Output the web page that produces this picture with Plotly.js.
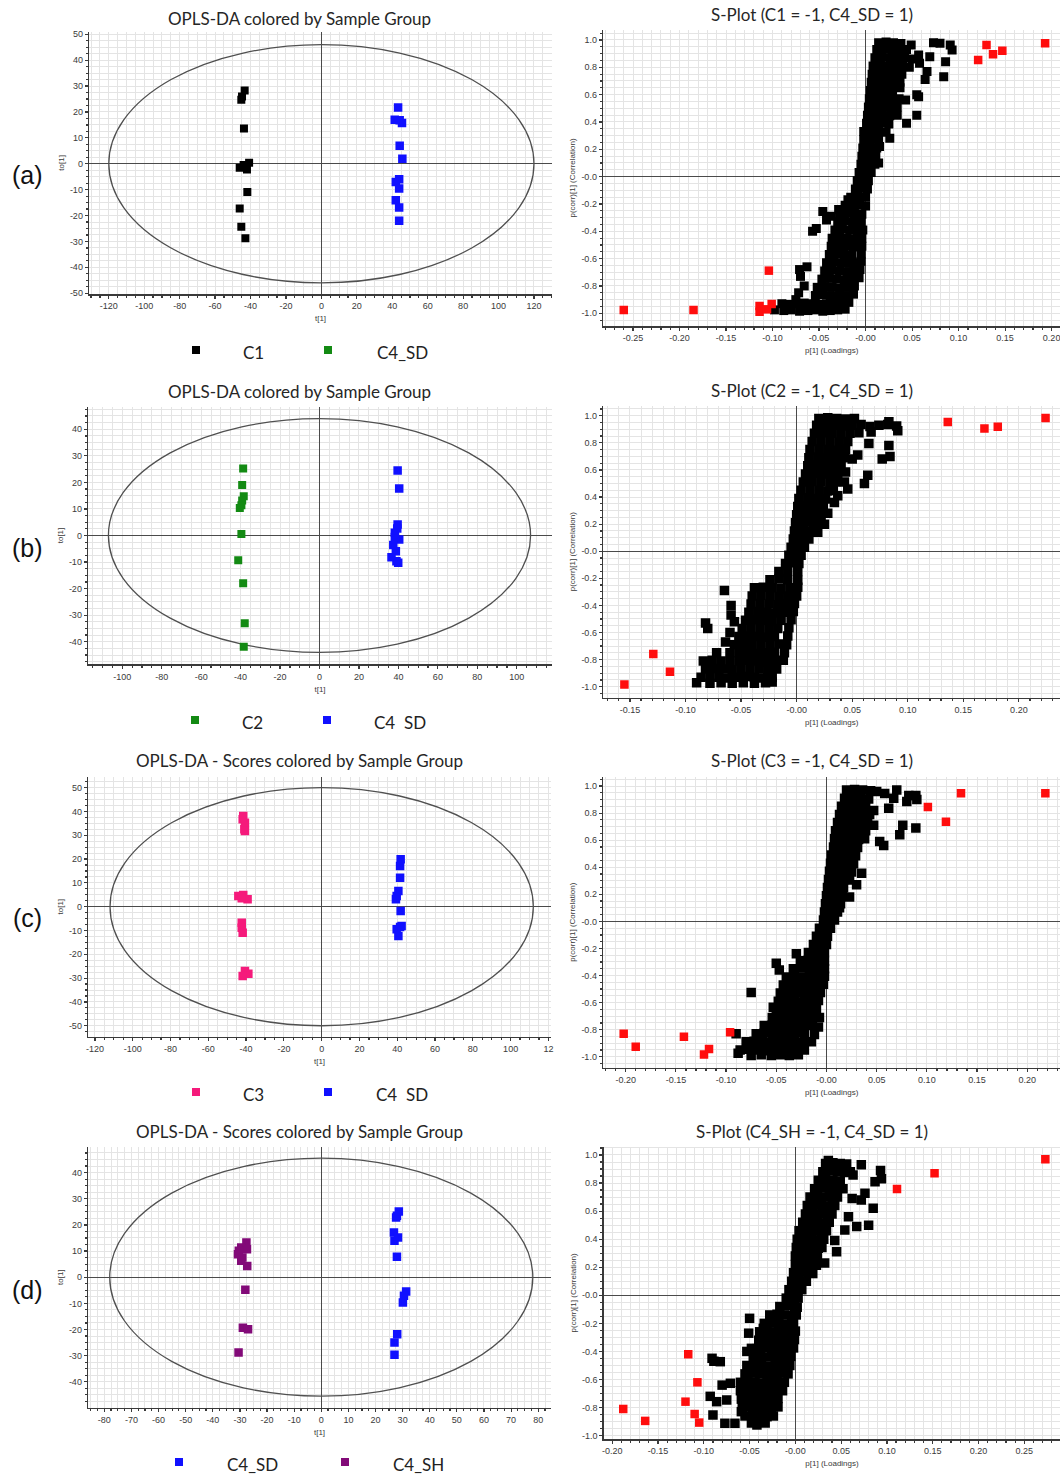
<!DOCTYPE html>
<html><head><meta charset="utf-8">
<script src="https://cdn.plot.ly/plotly-3.0.1.min.js"></script>
<style>body{margin:0;background:#fff}#chart{width:1060px;height:1475px}</style>
</head><body><div id="chart"></div>
<script>
// ---------------- DATA ----------------
// Score plots: t[1] / to[1]
const a_C1_t  = [-43.3,-44.8,-45.2,-43.7,-46.1,-43.9,-42.0,-40.8,-41.8,-46.1,-45.2,-42.9];
const a_C1_to = [28.3,26.0,24.7,13.6,-1.5,-0.5,-2.2,0.4,-10.9,-17.3,-24.3,-28.8];
const a_SD_t  = [43.3,41.4,44.2,45.5,44.2,45.7,43.9,42.0,43.9,42.0,43.9,43.9];
const a_SD_to = [21.7,17.0,16.8,15.7,7.0,1.9,-6.0,-7.0,-9.6,-14.1,-16.9,-22.0];

const b_C2_t  = [-38.7,-39.2,-38.4,-39.2,-39.6,-40.4,-39.6,-41.2,-38.7,-37.9,-38.4];
const b_C2_to = [25.2,19.0,14.8,13.2,11.4,10.4,0.6,-9.3,-18.0,-33.0,-41.9];
const b_SD_t  = [39.6,40.4,39.6,38.2,40.4,37.4,38.7,36.5,39.0,39.9,38.2,39.4];
const b_SD_to = [24.5,17.7,4.1,1.0,-1.5,-3.6,-5.9,-8.2,-9.7,-10.3,-0.6,2.6];

const c_C3_t  = [-41.5,-40.6,-40.9,-41.8,-40.6,-44.1,-41.5,-39.2,-42.3,-42.3,-42.3,-41.8,-40.6,-38.8,-41.8];
const c_C3_to = [38.1,35.3,32.5,36.7,31.8,4.5,4.9,3.1,3.5,-6.7,-8.8,-10.9,-27.0,-28.2,-29.1];
const c_SD_t  = [41.8,41.5,41.5,40.6,39.7,39.3,41.8,41.5,39.7,40.6,42.3];
const c_SD_to = [19.9,17.1,12.2,6.6,4.5,3.1,-1.8,-8.5,-9.5,-12.3,-8.1];

const d_SD_t  = [28.6,27.9,27.6,26.8,28.3,27.0,27.9,31.3,30.5,30.1,28.0,27.0,27.0];
const d_SD_to = [25.1,23.5,22.8,17.1,15.2,13.9,7.8,-5.5,-7.1,-9.7,-21.8,-25.0,-29.7];
const d_SH_t  = [-27.6,-29.5,-27.4,-30.4,-30.7,-29.1,-29.5,-27.3,-28.0,-28.9,-27.0,-30.5];
const d_SH_to = [13.3,11.4,10.7,10.1,8.8,7.5,6.3,4.3,-4.8,-19.3,-19.9,-28.8];

// Hotelling T2 ellipse semi-axes (t, to) per score plot
const ellipse_t  = [120, 107, 112, 78];
const ellipse_to = [46, 44, 50, 45.5];

// S-plots: [p[1], p(corr)[1]]
const sA_black = [
[0.014,0.98],[0.022,0.985],[0.030,0.98],[0.038,0.975],[0.049,0.963],[0.073,0.98],[0.080,0.976],[0.091,0.963],
[0.012,0.93],[0.020,0.935],[0.028,0.93],[0.036,0.925],[0.044,0.93],[0.057,0.89],[0.069,0.878],[0.093,0.927],
[0.010,0.87],[0.018,0.875],[0.026,0.87],[0.034,0.865],[0.042,0.87],[0.050,0.86],[0.086,0.84],
[0.008,0.81],[0.016,0.815],[0.024,0.81],[0.032,0.805],[0.040,0.81],[0.047,0.80],[0.058,0.83],[0.066,0.77],
[0.007,0.75],[0.015,0.755],[0.023,0.75],[0.031,0.745],[0.039,0.75],[0.084,0.73],[0.064,0.71],
[0.006,0.69],[0.014,0.695],[0.022,0.69],[0.030,0.685],[0.037,0.69],
[0.005,0.63],[0.013,0.635],[0.021,0.63],[0.029,0.625],[0.037,0.65],[0.055,0.60],
[0.004,0.57],[0.012,0.575],[0.020,0.57],[0.028,0.565],[0.036,0.57],[0.043,0.56],[0.057,0.585],
[0.003,0.51],[0.011,0.515],[0.019,0.51],[0.027,0.505],[0.034,0.51],
[0.002,0.45],[0.010,0.455],[0.018,0.45],[0.026,0.445],[0.034,0.45],[0.055,0.45],
[0.001,0.39],[0.009,0.395],[0.017,0.39],[0.025,0.385],[0.044,0.39],
[-0.002,0.33],[0.006,0.335],[0.014,0.33],[0.022,0.325],
[-0.002,0.27],[0.006,0.275],[0.014,0.27],[0.026,0.28],
[-0.003,0.21],[0.005,0.215],[0.012,0.21],[0.015,0.22],
[-0.004,0.15],[0.004,0.155],[0.011,0.15],
[-0.005,0.09],[0.003,0.095],[0.010,0.09],[0.014,0.10],
[-0.007,0.03],[0.001,0.035],[0.006,0.03],
[-0.009,-0.03],[-0.001,-0.025],[0.003,-0.03],
[-0.011,-0.09],[-0.003,-0.085],[0.002,-0.09],
[-0.016,-0.15],[-0.008,-0.145],[0.000,-0.15],[-0.019,-0.17],
[-0.022,-0.21],[-0.014,-0.205],[-0.006,-0.21],[0.000,-0.215],
[-0.028,-0.27],[-0.020,-0.265],[-0.012,-0.27],[-0.004,-0.275],[-0.046,-0.256],[-0.037,-0.29],[-0.029,-0.24],
[-0.030,-0.33],[-0.022,-0.325],[-0.014,-0.33],[-0.005,-0.335],[-0.042,-0.317],
[-0.033,-0.39],[-0.025,-0.385],[-0.017,-0.39],[-0.009,-0.395],[-0.003,-0.39],[-0.053,-0.38],[-0.057,-0.40],
[-0.036,-0.45],[-0.028,-0.445],[-0.020,-0.45],[-0.012,-0.455],[-0.004,-0.45],
[-0.037,-0.51],[-0.029,-0.505],[-0.021,-0.51],[-0.013,-0.515],[-0.004,-0.51],
[-0.039,-0.57],[-0.031,-0.565],[-0.023,-0.57],[-0.015,-0.575],[-0.005,-0.57],
[-0.042,-0.63],[-0.034,-0.625],[-0.026,-0.63],[-0.018,-0.635],[-0.010,-0.63],[-0.005,-0.62],
[-0.044,-0.69],[-0.036,-0.685],[-0.028,-0.69],[-0.020,-0.695],[-0.012,-0.69],[-0.006,-0.68],[-0.063,-0.66],[-0.071,-0.68],
[-0.047,-0.75],[-0.039,-0.745],[-0.031,-0.75],[-0.023,-0.755],[-0.015,-0.75],[-0.007,-0.74],[-0.070,-0.73],
[-0.052,-0.81],[-0.044,-0.805],[-0.036,-0.81],[-0.028,-0.815],[-0.020,-0.81],[-0.012,-0.80],[-0.066,-0.80],
[-0.054,-0.87],[-0.046,-0.865],[-0.038,-0.87],[-0.030,-0.875],[-0.022,-0.87],[-0.013,-0.86],[-0.072,-0.85],[-0.075,-0.90],
[-0.090,-0.93],[-0.082,-0.935],[-0.074,-0.93],[-0.066,-0.925],[-0.058,-0.93],[-0.050,-0.935],[-0.042,-0.93],[-0.034,-0.925],[-0.026,-0.93],[-0.018,-0.92],
[-0.098,-0.975],[-0.088,-0.98],[-0.080,-0.975],[-0.071,-0.985],[-0.062,-0.98],[-0.054,-0.975],[-0.046,-0.985],[-0.038,-0.98],[-0.030,-0.975],[-0.022,-0.97]
];
const sA_red = [[-0.260,-0.976],[-0.185,-0.976],[-0.104,-0.688],[-0.114,-0.946],[-0.114,-0.988],[-0.106,-0.971],[-0.101,-0.932],
[0.121,0.854],[0.130,0.963],[0.137,0.895],[0.147,0.922],[0.193,0.976]];

const sB_black = [
[0.020,0.98],[0.028,0.985],[0.036,0.98],[0.044,0.975],[0.052,0.98],[0.083,0.955],
[0.018,0.93],[0.026,0.935],[0.034,0.93],[0.042,0.925],[0.050,0.93],[0.058,0.935],[0.066,0.92],[0.074,0.93],[0.082,0.935],[0.090,0.925],
[0.016,0.87],[0.024,0.875],[0.032,0.87],[0.040,0.865],[0.048,0.87],[0.056,0.875],[0.067,0.88],[0.091,0.89],
[0.014,0.81],[0.022,0.815],[0.030,0.81],[0.038,0.805],[0.046,0.81],[0.065,0.795],[0.083,0.78],
[0.012,0.75],[0.020,0.755],[0.028,0.75],[0.036,0.745],[0.044,0.75],
[0.011,0.69],[0.019,0.695],[0.027,0.69],[0.035,0.685],[0.043,0.69],[0.055,0.71],[0.050,0.68],[0.084,0.70],[0.077,0.68],
[0.010,0.63],[0.018,0.635],[0.026,0.63],[0.034,0.625],[0.040,0.63],
[0.008,0.57],[0.016,0.575],[0.024,0.57],[0.032,0.565],[0.037,0.57],[0.044,0.585],[0.064,0.56],
[0.006,0.51],[0.014,0.515],[0.022,0.51],[0.030,0.505],[0.035,0.51],[0.043,0.51],[0.061,0.50],
[0.004,0.45],[0.012,0.455],[0.020,0.45],[0.028,0.445],[0.033,0.45],[0.046,0.46],
[0.002,0.39],[0.010,0.395],[0.018,0.39],[0.026,0.385],[0.037,0.41],[0.034,0.36],
[0.001,0.33],[0.009,0.335],[0.017,0.33],[0.024,0.325],
[0.000,0.27],[0.008,0.275],[0.016,0.27],[0.022,0.265],[0.028,0.28],
[-0.001,0.21],[0.007,0.215],[0.015,0.21],[0.020,0.205],[0.025,0.20],
[-0.002,0.15],[0.006,0.155],[0.014,0.15],[0.019,0.14],
[-0.003,0.09],[0.004,0.095],[0.011,0.09],
[-0.005,0.03],[0.002,0.035],[0.007,0.03],
[-0.007,-0.03],[0.000,-0.025],[0.004,-0.03],
[-0.010,-0.09],[-0.003,-0.085],[0.002,-0.09],
[-0.016,-0.15],[-0.008,-0.145],[0.001,-0.15],
[-0.024,-0.21],[-0.016,-0.205],[-0.008,-0.21],[0.001,-0.215],
[-0.038,-0.27],[-0.030,-0.265],[-0.022,-0.27],[-0.014,-0.275],[-0.006,-0.27],[0.001,-0.265],[-0.065,-0.29],
[-0.040,-0.33],[-0.032,-0.325],[-0.024,-0.33],[-0.016,-0.335],[-0.008,-0.33],[0.000,-0.33],
[-0.041,-0.39],[-0.033,-0.385],[-0.025,-0.39],[-0.017,-0.395],[-0.009,-0.39],[-0.002,-0.385],[-0.059,-0.40],
[-0.043,-0.45],[-0.035,-0.445],[-0.027,-0.45],[-0.019,-0.455],[-0.011,-0.45],[-0.003,-0.445],[-0.059,-0.47],
[-0.046,-0.51],[-0.038,-0.505],[-0.030,-0.51],[-0.022,-0.515],[-0.014,-0.51],[-0.005,-0.505],[-0.056,-0.52],[-0.082,-0.53],
[-0.049,-0.57],[-0.041,-0.565],[-0.033,-0.57],[-0.025,-0.575],[-0.017,-0.57],[-0.007,-0.565],[-0.080,-0.57],[-0.060,-0.60],
[-0.052,-0.63],[-0.044,-0.625],[-0.036,-0.63],[-0.028,-0.635],[-0.020,-0.63],[-0.008,-0.625],
[-0.056,-0.69],[-0.048,-0.685],[-0.040,-0.69],[-0.032,-0.695],[-0.024,-0.69],[-0.016,-0.685],[-0.009,-0.69],[-0.064,-0.67],
[-0.060,-0.75],[-0.052,-0.745],[-0.044,-0.75],[-0.036,-0.755],[-0.028,-0.75],[-0.020,-0.745],[-0.011,-0.75],[-0.072,-0.75],
[-0.084,-0.81],[-0.076,-0.805],[-0.068,-0.81],[-0.060,-0.815],[-0.052,-0.81],[-0.044,-0.805],[-0.036,-0.81],[-0.028,-0.815],[-0.020,-0.81],[-0.012,-0.805],
[-0.082,-0.87],[-0.074,-0.865],[-0.066,-0.87],[-0.058,-0.875],[-0.050,-0.87],[-0.042,-0.865],[-0.034,-0.87],[-0.026,-0.875],[-0.018,-0.87],
[-0.086,-0.93],[-0.078,-0.925],[-0.070,-0.93],[-0.062,-0.935],[-0.054,-0.93],[-0.046,-0.925],[-0.038,-0.93],[-0.030,-0.935],[-0.022,-0.93],
[-0.090,-0.97],[-0.078,-0.975],[-0.068,-0.97],[-0.058,-0.975],[-0.048,-0.97],[-0.038,-0.975],[-0.028,-0.97],[-0.022,-0.965]
];
const sB_red = [[-0.155,-0.984],[-0.129,-0.758],[-0.114,-0.890],[0.136,0.954],[0.169,0.905],[0.181,0.918],[0.224,0.984]];

const sC_black = [
[0.020,0.97],[0.028,0.975],[0.036,0.97],[0.044,0.965],[0.050,0.96],[0.058,0.945],[0.070,0.97],[0.082,0.93],[0.089,0.93],
[0.018,0.91],[0.026,0.915],[0.034,0.91],[0.042,0.905],[0.067,0.91],[0.080,0.885],[0.090,0.90],
[0.015,0.85],[0.023,0.855],[0.031,0.85],[0.039,0.845],[0.047,0.82],[0.062,0.835],
[0.013,0.79],[0.021,0.795],[0.029,0.79],[0.037,0.785],[0.043,0.79],
[0.011,0.73],[0.019,0.735],[0.027,0.73],[0.035,0.725],[0.041,0.73],[0.047,0.71],[0.076,0.71],[0.089,0.69],
[0.009,0.67],[0.017,0.675],[0.025,0.67],[0.033,0.665],[0.039,0.67],[0.073,0.64],
[0.008,0.61],[0.016,0.615],[0.024,0.61],[0.032,0.605],[0.038,0.61],[0.053,0.59],[0.057,0.56],
[0.007,0.55],[0.015,0.555],[0.023,0.55],[0.031,0.545],
[0.005,0.49],[0.013,0.495],[0.021,0.49],[0.029,0.485],
[0.004,0.43],[0.012,0.435],[0.020,0.43],[0.027,0.425],
[0.003,0.37],[0.011,0.375],[0.019,0.37],[0.025,0.365],[0.035,0.355],
[0.002,0.31],[0.010,0.315],[0.018,0.31],[0.023,0.305],
[0.001,0.25],[0.009,0.255],[0.017,0.25],[0.030,0.27],
[0.000,0.19],[0.008,0.195],[0.016,0.19],[0.023,0.18],
[-0.001,0.13],[0.007,0.135],[0.014,0.13],
[-0.002,0.07],[0.005,0.075],[0.011,0.07],[0.013,0.10],
[-0.003,0.01],[0.004,0.015],[0.008,0.01],
[-0.007,-0.05],[0.000,-0.045],[0.004,-0.05],
[-0.010,-0.11],[-0.003,-0.105],[0.001,-0.11],
[-0.013,-0.17],[-0.006,-0.165],[0.000,-0.17],
[-0.018,-0.23],[-0.010,-0.225],[-0.002,-0.23],[-0.030,-0.24],
[-0.026,-0.29],[-0.018,-0.285],[-0.010,-0.29],[-0.002,-0.295],[-0.050,-0.31],
[-0.033,-0.35],[-0.025,-0.345],[-0.017,-0.35],[-0.009,-0.355],[-0.002,-0.35],[-0.047,-0.36],
[-0.040,-0.41],[-0.032,-0.405],[-0.024,-0.41],[-0.016,-0.415],[-0.008,-0.41],[-0.002,-0.405],
[-0.043,-0.47],[-0.035,-0.465],[-0.027,-0.47],[-0.019,-0.475],[-0.011,-0.47],[-0.003,-0.465],
[-0.046,-0.53],[-0.038,-0.525],[-0.030,-0.53],[-0.022,-0.535],[-0.014,-0.53],[-0.006,-0.525],[-0.075,-0.525],
[-0.048,-0.59],[-0.040,-0.585],[-0.032,-0.59],[-0.024,-0.595],[-0.016,-0.59],[-0.008,-0.585],
[-0.050,-0.65],[-0.042,-0.645],[-0.034,-0.65],[-0.026,-0.655],[-0.018,-0.65],[-0.010,-0.645],[-0.053,-0.635],
[-0.054,-0.71],[-0.046,-0.705],[-0.038,-0.71],[-0.030,-0.715],[-0.022,-0.71],[-0.014,-0.705],[-0.007,-0.71],
[-0.062,-0.77],[-0.054,-0.765],[-0.046,-0.77],[-0.038,-0.775],[-0.030,-0.77],[-0.022,-0.765],[-0.014,-0.77],[-0.008,-0.78],
[-0.070,-0.83],[-0.062,-0.825],[-0.054,-0.83],[-0.046,-0.835],[-0.038,-0.83],[-0.030,-0.825],[-0.022,-0.83],[-0.012,-0.835],[-0.090,-0.83],
[-0.080,-0.89],[-0.072,-0.885],[-0.064,-0.89],[-0.056,-0.895],[-0.048,-0.89],[-0.040,-0.885],[-0.032,-0.89],[-0.024,-0.895],[-0.015,-0.89],
[-0.086,-0.95],[-0.078,-0.945],[-0.070,-0.95],[-0.062,-0.955],[-0.054,-0.95],[-0.046,-0.945],[-0.038,-0.95],[-0.030,-0.955],[-0.022,-0.95],
[-0.088,-0.975],[-0.075,-0.99],[-0.065,-0.985],[-0.055,-0.99],[-0.046,-0.985],[-0.037,-0.99],[-0.028,-0.985]
];
const sC_red = [[-0.202,-0.830],[-0.190,-0.926],[-0.142,-0.852],[-0.122,-0.983],[-0.117,-0.943],[-0.096,-0.820],
[0.101,0.845],[0.119,0.736],[0.134,0.946],[0.218,0.946]];

const sD_black = [
[0.033,0.94],[0.041,0.945],[0.049,0.94],[0.056,0.935],[0.072,0.93],[0.036,0.96],[0.047,0.93],
[0.030,0.88],[0.038,0.885],[0.046,0.88],[0.054,0.875],[0.060,0.88],[0.093,0.89],
[0.025,0.82],[0.033,0.825],[0.041,0.82],[0.049,0.815],[0.063,0.857],[0.094,0.83],[0.087,0.81],
[0.021,0.76],[0.029,0.765],[0.037,0.76],[0.045,0.755],[0.052,0.76],[0.076,0.727],
[0.016,0.70],[0.024,0.705],[0.032,0.70],[0.040,0.695],[0.046,0.70],[0.062,0.69],[0.072,0.68],
[0.013,0.64],[0.021,0.645],[0.029,0.64],[0.037,0.635],[0.043,0.64],[0.085,0.62],
[0.011,0.58],[0.019,0.585],[0.027,0.58],[0.035,0.575],[0.040,0.58],[0.058,0.56],
[0.008,0.52],[0.016,0.525],[0.024,0.52],[0.032,0.515],[0.037,0.52],[0.080,0.50],[0.067,0.49],
[0.004,0.46],[0.012,0.465],[0.020,0.46],[0.028,0.455],[0.034,0.46],[0.054,0.466],
[0.002,0.40],[0.010,0.405],[0.018,0.40],[0.026,0.395],[0.031,0.40],[0.043,0.39],
[0.001,0.34],[0.009,0.345],[0.017,0.34],[0.025,0.335],[0.029,0.34],[0.045,0.31],
[0.000,0.28],[0.008,0.285],[0.016,0.28],[0.024,0.275],
[0.000,0.22],[0.008,0.225],[0.016,0.22],[0.023,0.215],[0.032,0.23],
[-0.002,0.16],[0.006,0.165],[0.014,0.16],[0.019,0.155],
[-0.004,0.10],[0.004,0.105],[0.012,0.10],
[-0.007,0.04],[0.001,0.045],[0.007,0.04],
[-0.010,-0.02],[-0.002,-0.015],[0.003,-0.02],
[-0.017,-0.08],[-0.009,-0.075],[-0.001,-0.08],[0.002,-0.085],
[-0.028,-0.14],[-0.020,-0.135],[-0.012,-0.14],[-0.004,-0.145],[0.001,-0.14],
[-0.034,-0.20],[-0.026,-0.195],[-0.018,-0.20],[-0.010,-0.205],[-0.002,-0.20],[-0.050,-0.164],[-0.035,-0.235],
[-0.039,-0.26],[-0.031,-0.255],[-0.023,-0.26],[-0.015,-0.265],[-0.007,-0.26],[0.000,-0.255],[-0.051,-0.27],
[-0.040,-0.32],[-0.032,-0.315],[-0.024,-0.32],[-0.016,-0.325],[-0.008,-0.32],[-0.001,-0.315],
[-0.042,-0.38],[-0.034,-0.375],[-0.026,-0.38],[-0.018,-0.385],[-0.010,-0.38],[-0.002,-0.375],[-0.048,-0.378],[-0.053,-0.40],
[-0.046,-0.44],[-0.038,-0.435],[-0.030,-0.44],[-0.022,-0.445],[-0.014,-0.44],[-0.005,-0.435],[-0.091,-0.449],[-0.082,-0.473],[-0.089,-0.47],
[-0.053,-0.50],[-0.045,-0.495],[-0.037,-0.50],[-0.029,-0.505],[-0.021,-0.50],[-0.013,-0.495],[-0.006,-0.50],
[-0.055,-0.56],[-0.047,-0.555],[-0.039,-0.56],[-0.031,-0.565],[-0.023,-0.56],[-0.015,-0.555],[-0.008,-0.56],
[-0.060,-0.62],[-0.052,-0.615],[-0.044,-0.62],[-0.036,-0.625],[-0.028,-0.62],[-0.020,-0.615],[-0.012,-0.62],[-0.080,-0.64],[-0.071,-0.627],
[-0.060,-0.68],[-0.052,-0.675],[-0.044,-0.68],[-0.036,-0.685],[-0.028,-0.68],[-0.020,-0.675],[-0.014,-0.68],
[-0.059,-0.74],[-0.051,-0.735],[-0.043,-0.74],[-0.035,-0.745],[-0.027,-0.74],[-0.019,-0.735],[-0.093,-0.72],[-0.086,-0.758],[-0.075,-0.746],
[-0.058,-0.80],[-0.050,-0.795],[-0.042,-0.80],[-0.034,-0.805],[-0.026,-0.80],[-0.019,-0.795],
[-0.055,-0.86],[-0.047,-0.855],[-0.039,-0.86],[-0.031,-0.865],[-0.024,-0.86],[-0.090,-0.853],[-0.059,-0.829],
[-0.048,-0.91],[-0.040,-0.905],[-0.033,-0.91],[-0.077,-0.912],[-0.066,-0.912],[-0.042,-0.924]
];
const sD_red = [[-0.188,-0.810],[-0.164,-0.895],[-0.117,-0.420],[-0.107,-0.620],[-0.120,-0.758],[-0.110,-0.846],[-0.105,-0.907],
[0.111,0.758],[0.152,0.870],[0.273,0.969]];

// Text / tick labels
const panelTitles = ['OPLS-DA colored by Sample Group','S-Plot (C1 = -1, C4_SD = 1)',
  'OPLS-DA colored by Sample Group','S-Plot (C2 = -1, C4_SD = 1)',
  'OPLS-DA - Scores colored by Sample Group','S-Plot (C3 = -1, C4_SD = 1)',
  'OPLS-DA - Scores colored by Sample Group','S-Plot (C4_SH = -1, C4_SD = 1)'];
const panelLetters = ['(a)','(b)','(c)','(d)'];
const legendNames = [['C1','C4_SD'],['C2','C4  SD'],['C3','C4  SD'],['C4_SD','C4_SH']];
const scoreTickX = [[-120,-100,-80,-60,-40,-20,0,20,40,60,80,100,120],
                    [-100,-80,-60,-40,-20,0,20,40,60,80,100],
                    [-120,-100,-80,-60,-40,-20,0,20,40,60,80,100,120],
                    [-80,-70,-60,-50,-40,-30,-20,-10,0,10,20,30,40,50,60,70,80]];
const scoreTickXText3 = ['-120','-100','-80','-60','-40','-20','0','20','40','60','80','100','12'];
const scoreTickY = [[-50,-40,-30,-20,-10,0,10,20,30,40,50],
                    [-40,-30,-20,-10,0,10,20,30,40],
                    [-50,-40,-30,-20,-10,0,10,20,30,40,50],
                    [-40,-30,-20,-10,0,10,20,30,40]];
const sTickX = [[-0.25,-0.20,-0.15,-0.10,-0.05,0,0.05,0.10,0.15,0.20],
                [-0.15,-0.10,-0.05,0,0.05,0.10,0.15,0.20],
                [-0.20,-0.15,-0.10,-0.05,0,0.05,0.10,0.15,0.20],
                [-0.20,-0.15,-0.10,-0.05,0,0.05,0.10,0.15,0.20,0.25]];
const sTickY = [-1,-0.8,-0.6,-0.4,-0.2,0,0.2,0.4,0.6,0.8,1];

// ---------------- STYLE / LAYOUT ----------------
const W = 1060, H = 1475;
const PX = v => v / W, PY = v => 1 - v / H;
const BLUE = '#1010ff', GREEN = '#138a13', PINK = '#f51a7b', PURPLE = '#820a78', RED = '#ff0d0d', BLACK = '#000000';
const tickFont = {family:'Liberation Sans, Arial, sans-serif', size:9, color:'#3a3a3a'};
const axTitleFont = {family:'Liberation Sans, Arial, sans-serif', size:8, color:'#3a3a3a'};
const titleFont = {family:'Lato, "Open Sans", sans-serif', size:17, color:'#262626'};
const legFont = {family:'Lato, "Open Sans", sans-serif', size:17, color:'#222'};

function axis(o, minorDtick) {
  return Object.assign({
    showline:true, linecolor:'#3a3a3a', linewidth:1.6,
    ticks:'outside', ticklen:3, tickwidth:1.2, tickcolor:'#3a3a3a',
    tickfont: tickFont, showgrid:true, gridcolor:'#e4e4e4', gridwidth:1,
    zeroline:true, zerolinecolor:'#4a4a4a', zerolinewidth:1.3,
    fixedrange:true, ticklabeloverflow:'allow', tickmode:'array',
    minor:{tickmode:'linear', tick0:0, dtick:minorDtick, showgrid:true, gridcolor:'#e4e4e4', gridwidth:1, ticks:'outside', ticklen:2, tickcolor:'#3a3a3a'}
  }, o);
}
const fmtS = v => (v === 0 ? '-0.00' : v.toFixed(2));
const fmtSY = v => (v === 0 ? '-0.0' : v.toFixed(1));

// panel geometry (pixels): [x0, x1, ytop, ybottom]
const geo = [
  [89.3, 551.7, 31.7, 294], [603.3, 1060, 30, 326],
  [88.3, 551.7, 406.7, 664.3], [603.3, 1060, 405.7, 697.7],
  [88.3, 550.7, 776.7, 1036.7], [603.3, 1060, 776.7, 1067.7],
  [88.3, 550.7, 1146.7, 1407.7], [604, 1060, 1146.7, 1439]
];
const xr = [[-131,130],[-0.282,0.209],[-117.2,117.7],[-0.174,0.237],[-123.5,121.2],[-0.2223,0.2326],[-85.9,84.6],[-0.209,0.289]];
const yr = [[-50.3,51],[-1.093,1.073],[-48.5,48.5],[-1.081,1.074],[-54.6,54.6],[-1.081,1.069],[-49.9,49.9],[-1.024,1.059]];
const scoreXminor = [5,5,5,2.5];

const layout = {width:W, height:H, margin:{l:0,r:0,t:0,b:0}, paper_bgcolor:'#fff', plot_bgcolor:'#fff',
  showlegend:false, shapes:[], annotations:[]};

for (let i = 0; i < 8; i++) {
  const g = geo[i];
  const xn = i === 0 ? 'xaxis' : 'xaxis' + (i + 1);
  const yn = i === 0 ? 'yaxis' : 'yaxis' + (i + 1);
  const xa = i === 0 ? 'x' : 'x' + (i + 1);
  const ya = i === 0 ? 'y' : 'y' + (i + 1);
  const dom = {x:[PX(g[0]), PX(g[1])], y:[PY(g[3]), PY(g[2])]};
  const isS = i % 2 === 1, k = Math.floor(i / 2);
  if (!isS) {
    const tv = scoreTickX[k];
    layout[xn] = axis({domain:dom.x, anchor:ya, range:xr[i], tickvals:tv,
      ticktext: k === 2 ? scoreTickXText3 : tv.map(String),
      title:{text:'t[1]', font:axTitleFont, standoff:5}}, scoreXminor[k]);
    layout[yn] = axis({domain:dom.y, anchor:xa, range:yr[i], tickvals:scoreTickY[k],
      ticktext:scoreTickY[k].map(String),
      title:{text:'to[1]', font:axTitleFont, standoff:4}}, 2.5);
    layout.shapes.push({type:'circle', xref:xa, yref:ya, layer:'between',
      x0:-ellipse_t[k], x1:ellipse_t[k], y0:-ellipse_to[k], y1:ellipse_to[k],
      line:{color:'#505050', width:1.3}});
  } else {
    layout[xn] = axis({domain:dom.x, anchor:ya, range:xr[i],
      tickvals:sTickX[k], ticktext:sTickX[k].map(fmtS),
      title:{text:'p[1] (Loadings)', font:axTitleFont, standoff:5}}, 0.01);
    layout[yn] = axis({domain:dom.y, anchor:xa, range:yr[i],
      tickvals:sTickY, ticktext:sTickY.map(fmtSY),
      title:{text:'p(corr)[1] (Correlation)', font:axTitleFont, standoff:4}}, 0.05);
  }
  const tcx = isS ? 812 : 299.5;
  const tcy = [18, 15, 391, 390.7, 760.7, 760.7, 1131.7, 1131][i];
  layout.annotations.push({xref:'paper', yref:'paper', x:PX(tcx), y:PY(tcy), xanchor:'center', yanchor:'middle',
    text:panelTitles[i], showarrow:false, font:titleFont});
}

// panel letters
[175, 548, 918, 1290].forEach((yy, k) => layout.annotations.push({xref:'paper', yref:'paper', x:PX(27), y:PY(yy),
  xanchor:'center', yanchor:'middle', text:panelLetters[k], showarrow:false,
  font:{family:'Liberation Sans, Arial, sans-serif', size:25, color:'#111'}}));

// legends under score plots
const legColors = [[BLACK, GREEN],[GREEN, BLUE],[PINK, BLUE],[BLUE, PURPLE]];
const legSq = [[196, 328],[195, 327],[196, 328],[179, 345]];
const legTx = [[253, 402],[252, 400],[253, 402],[252, 418.5]];
const legY = [351, 721, 1093, 1463];
for (let k = 0; k < 4; k++) {
  for (let j = 0; j < 2; j++) {
    const cx = legSq[k][j], cy = legY[k] - 1, s = 4;
    layout.shapes.push({type:'rect', xref:'paper', yref:'paper', x0:PX(cx - s), x1:PX(cx + s),
      y0:PY(cy + s), y1:PY(cy - s), fillcolor:legColors[k][j], line:{width:0}});
    layout.annotations.push({xref:'paper', yref:'paper', x:PX(legTx[k][j]), y:PY(legY[k] + 1), xanchor:'center',
      yanchor:'middle', text:legendNames[k][j], showarrow:false, font:legFont});
  }
}

// ---------------- TRACES ----------------
function pts(x, y, color, size, xa, ya) {
  return {type:'scatter', mode:'markers', x:x, y:y, xaxis:xa, yaxis:ya, hoverinfo:'skip',
    marker:{symbol:'square', size:size, color:color, line:{width:0}}};
}
const P0 = a => a.map(p => p[0]), P1 = a => a.map(p => p[1]);
const traces = [
  pts(a_C1_t, a_C1_to, BLACK, 8, 'x', 'y'),
  pts(a_SD_t, a_SD_to, BLUE, 8.5, 'x', 'y'),
  pts(P0(sA_black), P1(sA_black), BLACK, 9, 'x2', 'y2'),
  pts(P0(sA_red), P1(sA_red), RED, 8.5, 'x2', 'y2'),
  pts(b_C2_t, b_C2_to, GREEN, 8, 'x3', 'y3'),
  pts(b_SD_t, b_SD_to, BLUE, 8.5, 'x3', 'y3'),
  pts(P0(sB_black), P1(sB_black), BLACK, 9.5, 'x4', 'y4'),
  pts(P0(sB_red), P1(sB_red), RED, 8.5, 'x4', 'y4'),
  pts(c_C3_t, c_C3_to, PINK, 8.5, 'x5', 'y5'),
  pts(c_SD_t, c_SD_to, BLUE, 8.5, 'x5', 'y5'),
  pts(P0(sC_black), P1(sC_black), BLACK, 9.5, 'x6', 'y6'),
  pts(P0(sC_red), P1(sC_red), RED, 8.5, 'x6', 'y6'),
  pts(d_SD_t, d_SD_to, BLUE, 8.5, 'x7', 'y7'),
  pts(d_SH_t, d_SH_to, PURPLE, 8.5, 'x7', 'y7'),
  pts(P0(sD_black), P1(sD_black), BLACK, 9.5, 'x8', 'y8'),
  pts(P0(sD_red), P1(sD_red), RED, 8.5, 'x8', 'y8')
];

Plotly.newPlot('chart', traces, layout, {staticPlot:true, displayModeBar:false});
</script></body></html>
